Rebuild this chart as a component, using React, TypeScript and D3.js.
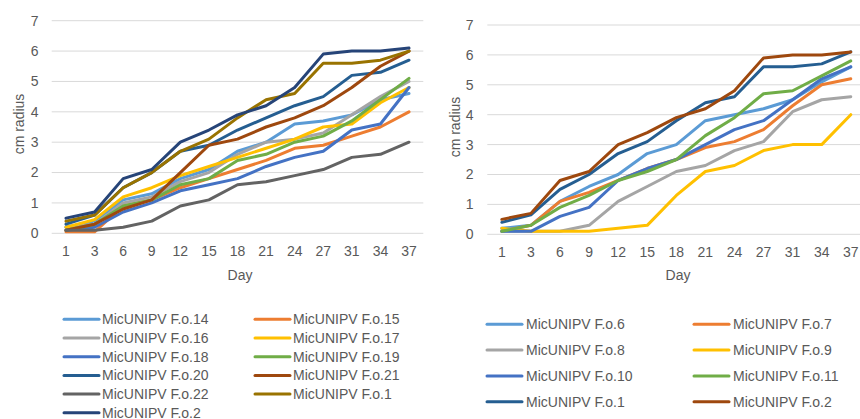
import React from "react";
import * as d3 from "d3";

const days = ["1", "3", "6", "9", "12", "15", "18", "21", "24", "27", "31", "34", "37"];
const yTicks = [0, 1, 2, 3, 4, 5, 6, 7];

const leftNames = [
  "MicUNIPV F.o.14", "MicUNIPV F.o.15", "MicUNIPV F.o.16", "MicUNIPV F.o.17",
  "MicUNIPV F.o.18", "MicUNIPV F.o.19", "MicUNIPV F.o.20", "MicUNIPV F.o.21",
  "MicUNIPV F.o.22", "MicUNIPV F.o.1", "MicUNIPV F.o.2",
];
const leftColors = ["#5B9BD5", "#ED7D31", "#A5A5A5", "#FFC000", "#4472C4", "#70AD47", "#255E91", "#9E480E", "#636363", "#997300", "#264478"];
const fo14 = [0.2, 0.4, 1.1, 1.3, 1.8, 2.1, 2.7, 3.0, 3.6, 3.7, 3.9, 4.4, 4.6];
const fo15 = [0.05, 0.05, 0.9, 1.1, 1.5, 1.8, 2.1, 2.4, 2.8, 2.9, 3.2, 3.5, 4.0];
const fo16 = [0.2, 0.3, 1.0, 1.2, 1.7, 2.0, 2.6, 3.0, 3.1, 3.3, 3.9, 4.5, 5.0];
const fo17 = [0.2, 0.45, 1.2, 1.5, 1.9, 2.2, 2.5, 2.8, 3.1, 3.5, 3.6, 4.3, 4.8];
const fo18 = [0.1, 0.2, 0.7, 1.0, 1.4, 1.6, 1.8, 2.2, 2.5, 2.7, 3.4, 3.6, 4.8];
const fo19 = [0.1, 0.3, 0.9, 1.1, 1.6, 1.8, 2.4, 2.6, 3.0, 3.2, 3.7, 4.4, 5.1];
const fo20 = [0.3, 0.6, 1.5, 2.0, 2.7, 2.9, 3.4, 3.8, 4.2, 4.5, 5.2, 5.3, 5.7];
const fo21 = [0.1, 0.3, 0.8, 1.1, 2.0, 2.9, 3.1, 3.5, 3.8, 4.2, 4.8, 5.5, 6.0];
const fo22 = [0.1, 0.1, 0.2, 0.4, 0.9, 1.1, 1.6, 1.7, 1.9, 2.1, 2.5, 2.6, 3.0];
const fo1L = [0.4, 0.6, 1.5, 2.0, 2.7, 3.1, 3.8, 4.4, 4.6, 5.6, 5.6, 5.7, 6.0];
const fo2L = [0.5, 0.7, 1.8, 2.1, 3.0, 3.4, 3.9, 4.2, 4.8, 5.9, 6.0, 6.0, 6.1];
const leftValues = [fo14, fo15, fo16, fo17, fo18, fo19, fo20, fo21, fo22, fo1L, fo2L];

const rightNames = [
  "MicUNIPV F.o.6", "MicUNIPV F.o.7", "MicUNIPV F.o.8", "MicUNIPV F.o.9",
  "MicUNIPV F.o.10", "MicUNIPV F.o.11", "MicUNIPV F.o.1", "MicUNIPV F.o.2",
];
const rightColors = ["#5B9BD5", "#ED7D31", "#A5A5A5", "#FFC000", "#4472C4", "#70AD47", "#255E91", "#9E480E"];
const fo6 = [0.2, 0.3, 1.1, 1.6, 2.0, 2.7, 3.0, 3.8, 4.0, 4.2, 4.5, 5.1, 5.6];
const fo7 = [0.1, 0.3, 1.1, 1.4, 1.8, 2.2, 2.5, 2.9, 3.1, 3.5, 4.3, 5.0, 5.2];
const fo8 = [0.1, 0.1, 0.1, 0.3, 1.1, 1.6, 2.1, 2.3, 2.8, 3.1, 4.1, 4.5, 4.6];
const fo9 = [0.2, 0.1, 0.1, 0.1, 0.2, 0.3, 1.3, 2.1, 2.3, 2.8, 3.0, 3.0, 4.0];
const fo10 = [0.1, 0.1, 0.6, 0.9, 1.8, 2.2, 2.5, 3.0, 3.5, 3.8, 4.5, 5.2, 5.6];
const fo11 = [0.1, 0.3, 0.9, 1.3, 1.8, 2.1, 2.5, 3.3, 3.9, 4.7, 4.8, 5.3, 5.8];
const fo1R = [0.4, 0.65, 1.5, 2.0, 2.7, 3.1, 3.8, 4.4, 4.6, 5.6, 5.6, 5.7, 6.1];
const fo2R = [0.5, 0.7, 1.8, 2.1, 3.0, 3.4, 3.9, 4.2, 4.8, 5.9, 6.0, 6.0, 6.1];
const rightValues = [fo6, fo7, fo8, fo9, fo10, fo11, fo1R, fo2R];

const FONT = "'Liberation Sans', Arial, sans-serif";
const TEXT = "#595959";

type PanelProps = {
  x0: number; x1: number; yTop: number; yBottom: number;
  yLabelX: number; titleX: number; titleY: number; tickY: number; dayX: number; dayY: number;
  names: string[]; colors: string[]; values: number[][];
  legend: { cols: number[]; lineLen: number; textGap: number; rowY0: number; rowStep: number };
};

function Panel(p: PanelProps) {
  const x = d3.scalePoint<string>().domain(days).range([p.x0, p.x1]).padding(0.5);
  const y = d3.scaleLinear().domain([0, 7]).range([p.yBottom, p.yTop]);
  const line = d3.line<number>().x((_, i) => x(days[i]) as number).y((v) => y(v));
  return (
    <g>
      {yTicks.map((t) => (
        <g key={t}>
          <line x1={p.x0} x2={p.x1} y1={y(t)} y2={y(t)} stroke="#D9D9D9" strokeWidth={1} />
          <text x={p.yLabelX} y={y(t)} dy="0.35em" textAnchor="end" fontSize={14} fill={TEXT} fontFamily={FONT}>{t}</text>
        </g>
      ))}
      {days.map((d) => (
        <text key={d} x={x(d)} y={p.tickY} textAnchor="middle" fontSize={14} fill={TEXT} fontFamily={FONT}>{d}</text>
      ))}
      <text x={p.dayX} y={p.dayY} textAnchor="middle" fontSize={14} fill={TEXT} fontFamily={FONT}>Day</text>
      <text transform={`translate(${p.titleX},${p.titleY}) rotate(-90)`} textAnchor="middle" fontSize={14} fill={TEXT} fontFamily={FONT}>cm radius</text>
      {p.values.map((vals, i) => (
        <path key={i} d={line(vals) as string} fill="none" stroke={p.colors[i]} strokeWidth={3} strokeLinejoin="round" strokeLinecap="round" />
      ))}
      {p.names.map((n, i) => {
        const col = i % 2;
        const row = Math.floor(i / 2);
        const lx = p.legend.cols[col];
        const ly = p.legend.rowY0 + row * p.legend.rowStep;
        return (
          <g key={n + i}>
            <line x1={lx} x2={lx + p.legend.lineLen} y1={ly} y2={ly} stroke={p.colors[i]} strokeWidth={3} strokeLinecap="round" />
            <text x={lx + p.legend.lineLen + p.legend.textGap} y={ly} dy="0.35em" fontSize={14} fill={TEXT} fontFamily={FONT}>{n}</text>
          </g>
        );
      })}
    </g>
  );
}

export default function App() {
  return (
    <svg width={860} height={419} style={{ position: "fixed", left: 0, top: 0, background: "#fff" }}>
      <rect width={860} height={419} fill="#fff" />
      <Panel
        x0={51.7} x1={423.3} yTop={20.7} yBottom={233.3}
        yLabelX={38.5} titleX={23.5} titleY={124} tickY={256} dayX={240} dayY={280}
        names={leftNames} colors={leftColors} values={leftValues}
        legend={{ cols: [64, 255], lineLen: 35, textGap: 3, rowY0: 319.3, rowStep: 18.7 }}
      />
      <Panel
        x0={487.3} x1={865.3} yTop={25} yBottom={234.3}
        yLabelX={473.5} titleX={460} titleY={127} tickY={257} dayX={678} dayY={280}
        names={rightNames} colors={rightColors} values={rightValues}
        legend={{ cols: [487, 694], lineLen: 35, textGap: 4, rowY0: 324.3, rowStep: 25.8 }}
      />
    </svg>
  );
}
